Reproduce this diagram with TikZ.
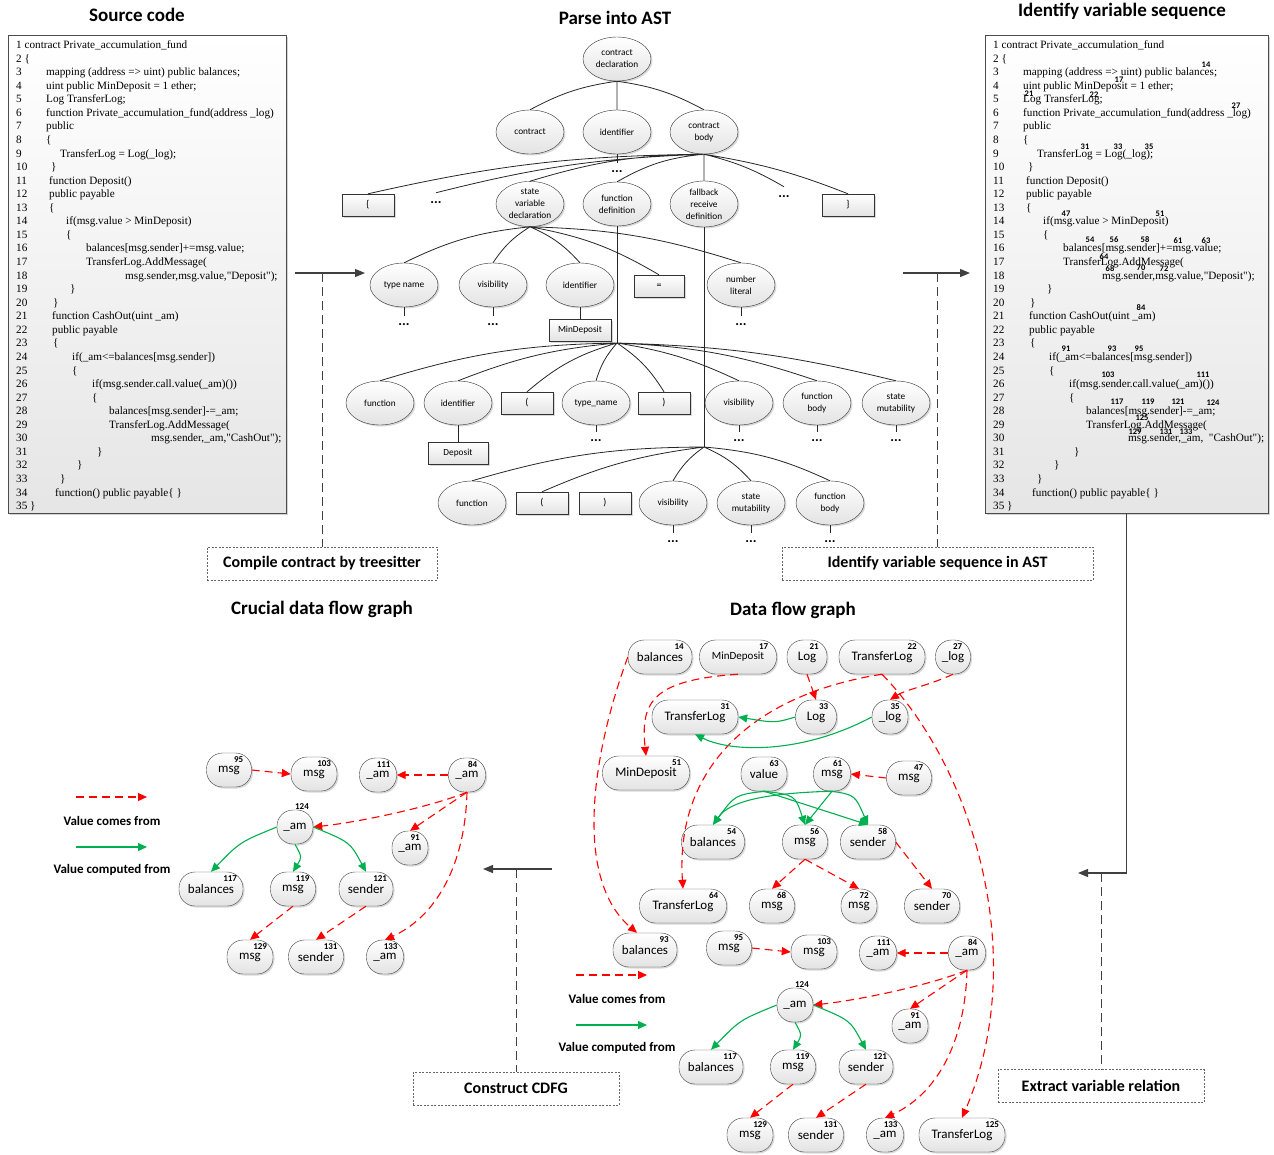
\documentclass[tikz,border=0pt]{standalone}
\usepackage{fontspec}
\setmainfont{Carlito}
\newfontfamily\codefont{Liberation Serif}
\usetikzlibrary{shapes,arrows.meta,shadows}
\definecolor{vred}{RGB}{255,0,0}
\definecolor{vgreen}{RGB}{0,176,80}
\definecolor{flowgray}{RGB}{64,64,64}
\tikzstyle{ttl}=[font=\bfseries\fontsize{19}{22}\selectfont]
\tikzstyle{codebox}=[draw=black!70,rectangle,top color=white,bottom color=gray!20,drop shadow={shadow xshift=2pt,shadow yshift=-2pt,opacity=0.35},minimum height=478pt,inner sep=0pt]
\tikzstyle{codetxt}=[anchor=north west,inner sep=0pt,align=left,font=\codefont\fontsize{11.2}{13.56}\selectfont]
\tikzstyle{seqnum}=[inner sep=0pt,font=\bfseries\fontsize{8.5}{9}\selectfont]
\tikzstyle{ast}=[draw=black!80,ellipse,minimum width=68pt,minimum height=44pt,inner sep=1pt,align=center,top color=white,bottom color=gray!22,drop shadow={shadow xshift=1.5pt,shadow yshift=-1.5pt,opacity=0.3},font=\fontsize{9.3}{12}\selectfont]
\tikzstyle{tok}=[draw=black!80,rectangle,minimum width=52pt,minimum height=22pt,top color=white,bottom color=gray!22,drop shadow={shadow xshift=1.5pt,shadow yshift=-1.5pt,opacity=0.3},font=\fontsize{10}{12}\selectfont]
\tikzstyle{more}=[inner sep=1pt,font=\bfseries\fontsize{14}{14}\selectfont]
\tikzstyle{tree}=[draw=black!85,line width=0.8pt]
\tikzstyle{procbox}=[draw=black!60,dash pattern=on 2pt off 1.5pt,fill=white,minimum height=33pt,font=\bfseries\fontsize{16}{18}\selectfont]
\tikzstyle{flow}=[draw=flowgray,line width=1.2pt,-{Triangle[length=10pt,width=8pt]}]
\tikzstyle{link}=[draw=flowgray,line width=1pt,dash pattern=on 9pt off 5pt]
\tikzstyle{var}=[draw=black!75,rectangle,rounded corners=16pt,minimum height=34pt,inner sep=1pt,top color=white,bottom color=gray!22,drop shadow={shadow xshift=1.5pt,shadow yshift=-1.5pt,opacity=0.3},font=\fontsize{13}{14}\selectfont]
\tikzstyle{num}=[anchor=center,inner sep=0pt,font=\bfseries\fontsize{9}{9}\selectfont]
\tikzset{vn/.style={var,label={[num,xshift=-13pt,yshift=-7pt]north east:#1}}}
\tikzstyle{vf}=[draw=vred,line width=1.1pt,dash pattern=on 8pt off 5pt,-{Triangle[length=9pt,width=8pt]}]
\tikzstyle{cf}=[draw=vgreen,line width=1.1pt,-{Triangle[length=9pt,width=8pt]}]
\tikzstyle{lgd}=[font=\bfseries\fontsize{13}{14}\selectfont]

\newcommand\srcline[3]{\makebox[#2pt][l]{#1}#3}
\newcommand\srctext[1]{%
1 contract Private\_accumulation\_fund\\
2 \{\\
\srcline{3}{30}{mapping (address => uint) public balances;}\\
\srcline{4}{30}{uint public MinDeposit = 1 ether;}\\
\srcline{5}{30}{Log TransferLog;}\\
\srcline{6}{30}{function Private\_accumulation\_fund(address \_log)}\\
\srcline{7}{30}{public}\\
\srcline{8}{30}{\{}\\
\srcline{9}{44}{TransferLog = Log(\_log);}\\
\srcline{10}{35}{\}}\\
\srcline{11}{33}{function Deposit()}\\
\srcline{12}{33}{public payable}\\
\srcline{13}{33}{\{}\\
\srcline{14}{50}{if(msg.value > MinDeposit)}\\
\srcline{15}{50}{\{}\\
\srcline{16}{70}{balances[msg.sender]+=msg.value;}\\
\srcline{17}{70}{TransferLog.AddMessage(}\\
\srcline{18}{109}{msg.sender,msg.value,"Deposit");}\\
\srcline{19}{54}{\}}\\
\srcline{20}{37}{\}}\\
\srcline{21}{36}{function CashOut(uint \_am)}\\
\srcline{22}{36}{public payable}\\
\srcline{23}{37}{\{}\\
\srcline{24}{56}{if(\_am<=balances[msg.sender])}\\
\srcline{25}{56}{\{}\\
\srcline{26}{76}{if(msg.sender.call.value(\_am)())}\\
\srcline{27}{76}{\{}\\
\srcline{28}{93}{balances[msg.sender]-=\_am;}\\
\srcline{29}{93}{TransferLog.AddMessage(}\\
\srcline{30}{135}{msg.sender,\_am,#1"CashOut");}\\
\srcline{31}{81}{\}}\\
\srcline{32}{61}{\}}\\
\srcline{33}{44}{\}}\\
\srcline{34}{39}{function() public payable\{ \}}\\
35 \}}

\begin{document}
\begin{tikzpicture}[x=1pt,y=1pt]
\useasboundingbox (0,0) rectangle (1274,-1154);

% titles
\node[ttl] (t-src) at (137,-15) {Source code};
\node[ttl] (t-ast) at (615,-18) {Parse into AST};
\node[ttl] (t-seq) at (1122,-11) {Identify variable sequence};
\node[ttl] (t-cdfg) at (322,-609) {Crucial data flow graph};
\node[ttl] (t-dfg) at (793,-610) {Data flow graph};

% source code
\node[codebox,minimum width=278pt] (src) at (147,-274) {};
\node[codetxt] (src-txt) at (16,-40.5) {\srctext{}};

% variable sequence
\node[codebox,minimum width=283pt] (seq) at (1126.5,-274) {};
\node[codetxt] (seq-txt) at (993,-40.5) {\srctext{\ \ }};
\node[seqnum] (q14) at (1206,-65) {14}; \node[seqnum] (q17) at (1119,-80) {17};
\node[seqnum] (q21) at (1029,-94) {21}; \node[seqnum] (q22) at (1094,-95) {22};
\node[seqnum] (q27) at (1236,-106) {27};
\node[seqnum] (q31) at (1085,-147) {31}; \node[seqnum] (q33) at (1118,-147) {33}; \node[seqnum] (q35) at (1149,-147) {35};
\node[seqnum] (q47) at (1066,-214) {47}; \node[seqnum] (q51) at (1160,-214) {51};
\node[seqnum] (q54) at (1090,-240) {54}; \node[seqnum] (q56) at (1114,-240) {56}; \node[seqnum] (q58) at (1145,-240) {58};
\node[seqnum] (q61) at (1178,-241) {61}; \node[seqnum] (q63) at (1206,-241) {63};
\node[seqnum] (q64) at (1104,-257) {64};
\node[seqnum] (q68) at (1110,-269) {68}; \node[seqnum] (q70) at (1141,-268) {70}; \node[seqnum] (q72) at (1164,-269) {72};
\node[seqnum] (q84) at (1141,-308) {84};
\node[seqnum] (q91) at (1066,-349) {91}; \node[seqnum] (q93) at (1112,-349) {93}; \node[seqnum] (q95) at (1139,-349) {95};
\node[seqnum] (q103) at (1108,-375) {103}; \node[seqnum] (q111) at (1203,-375) {111};
\node[seqnum] (q117) at (1117,-402) {117}; \node[seqnum] (q119) at (1148,-402) {119}; \node[seqnum] (q121) at (1178,-402) {121}; \node[seqnum] (q124) at (1213,-403) {124};
\node[seqnum] (q125) at (1142,-418) {125};
\node[seqnum] (q129) at (1135,-432) {129}; \node[seqnum] (q131) at (1166,-432) {131}; \node[seqnum] (q133) at (1186,-432) {133};

% AST
\node[ast] (cd) at (617,-59) {contract\\declaration};
\node[ast] (ct) at (530,-132) {contract};
\node[ast] (ci) at (617,-132) {identifier};
\node[ast] (cb) at (704,-132) {contract\\body};
\node[more] (ci-m) at (617,-172) {...};
\node[tok] (lbr) at (368,-205) {\{};
\node[more] (cb-m1) at (436,-203) {...};
\node[ast] (svd) at (530,-204) {state\\variable\\declaration};
\node[ast] (fd) at (617,-204) {function\\definition};
\node[ast] (frd) at (704,-204) {fallback\\receive\\definition};
\node[more] (cb-m2) at (784,-197) {...};
\node[tok] (rbr) at (848,-205) {\}};

\node[ast] (tn) at (404,-285) {type name};
\node[ast] (vi) at (493,-285) {visibility};
\node[ast] (si) at (580,-285) {identifier};
\node[tok,minimum width=50pt] (eq) at (659,-286) {=};
\node[ast] (nl) at (741,-285) {number\\literal};
\node[more] (tn-m) at (404,-325) {...};
\node[more] (vi-m) at (493,-325) {...};
\node[tok,minimum width=62pt,font=\fontsize{9.3}{12}\selectfont] (md) at (580,-330) {MinDeposit};
\node[more] (nl-m) at (741,-325) {...};

\coordinate (fj) at (617,-343);
\node[ast] (fn) at (380,-403) {function};
\node[ast] (fi) at (458,-403) {identifier};
\node[tok] (lp) at (527,-403) {(};
\node[ast] (ty) at (596,-403) {type\_name};
\node[tok] (rp) at (664,-403) {)};
\node[ast] (fv) at (739,-403) {visibility};
\node[ast] (fb) at (817,-403) {function\\body};
\node[ast] (fs) at (896,-403) {state\\mutability};
\node[tok,minimum width=60pt,font=\fontsize{9.3}{12}\selectfont] (dep) at (458,-453) {Deposit};
\node[more] (ty-m) at (596,-441) {...};
\node[more] (fv-m) at (739,-441) {...};
\node[more] (fb-m) at (817,-441) {...};
\node[more] (fs-m) at (896,-441) {...};

\coordinate (bj) at (704,-447);
\node[ast] (gn) at (472,-503) {function};
\node[tok] (glp) at (542,-503) {(};
\node[tok] (grp) at (605,-503) {)};
\node[ast] (gv) at (673,-503) {visibility};
\node[ast] (gs) at (751,-503) {state\\mutability};
\node[ast] (gb) at (830,-503) {function\\body};
\node[more] (gv-m) at (673,-542) {...};
\node[more] (gs-m) at (751,-542) {...};
\node[more] (gb-m) at (830,-542) {...};

\draw[tree] (cd.south) to[bend right=10] (ct.north) (cd.south) -- (ci.north) (cd.south) to[bend left=10] (cb.north);
\draw[tree] (ci.south) -- ([yshift=7pt]ci-m.north);
\draw[tree] (cb.south) to[bend right=6] (lbr.north) (cb.south) to[bend right=6] ([yshift=8pt]cb-m1.north) (cb.south) to[bend right=8] (svd.north) (cb.south) to[bend right=12] (fd.north);
\draw[tree] (cb.south) -- (frd.north) (cb.south) to[bend left=8] ([yshift=8pt]cb-m2.north) (cb.south) to[bend left=6] (rbr.north);
\draw[tree] (svd.south) to[bend right=10] (tn.north) (svd.south) to[bend right=12] (vi.north) (svd.south) to[bend left=12] (si.north) (svd.south) to[bend left=10] (eq.north) (svd.south) to[bend left=8] (nl.north);
\draw[tree] (tn.south) -- ([yshift=7pt]tn-m.north) (vi.south) -- ([yshift=7pt]vi-m.north) (si.south) -- (md.north) (nl.south) -- ([yshift=7pt]nl-m.north);
\draw[tree] (fd.south) -- (fj);
\draw[tree] (fj) to[bend right=8] (fn.north) (fj) to[bend right=8] (fi.north) (fj) to[bend right=12] (lp.north) (fj) to[bend right=12] (ty.north) (fj) to[bend left=12] (rp.north);
\draw[tree] (fj) to[bend left=8] (fv.north) (fj) to[bend left=8] (fb.north) (fj) to[bend left=6] (fs.north);
\draw[tree] (fi.south) -- (dep.north) (ty.south) -- ([yshift=7pt]ty-m.north) (fv.south) -- ([yshift=7pt]fv-m.north) (fb.south) -- ([yshift=7pt]fb-m.north) (fs.south) -- ([yshift=7pt]fs-m.north);
\draw[tree] (frd.south) -- (bj);
\draw[tree] (bj) to[bend right=8] (gn.north) (bj) to[bend right=8] (glp.north) (bj) to[bend right=12] (gv.north) (bj) to[bend left=12] (gs.north) (bj) to[bend left=10] (gb.north);
\draw[tree] (gv.south) -- ([yshift=7pt]gv-m.north) (gs.south) -- ([yshift=7pt]gs-m.north) (gb.south) -- ([yshift=7pt]gb-m.north);

% process steps
\node[procbox,minimum width=230pt] (p-ts) at (322,-563.5) {Compile contract by treesitter};
\node[procbox,minimum width=311pt] (p-ast) at (937.5,-563.5) {Identify variable sequence in AST};
\node[procbox,minimum width=206pt] (p-rel) at (1101,-1086) {Extract variable relation};
\node[procbox,minimum width=206pt] (p-cdfg) at (516,-1088.5) {Construct CDFG};

\coordinate (f1a) at (295,-273); \coordinate (f1b) at (365,-273); \coordinate (f1c) at (322,-273);
\coordinate (f2a) at (903,-273); \coordinate (f2b) at (970,-273); \coordinate (f2c) at (937.5,-273);
\coordinate (f3b) at (1078,-873); \coordinate (f3c) at (1101,-873);
\coordinate (f4a) at (552,-869); \coordinate (f4b) at (483,-869); \coordinate (f4c) at (516,-869);
\draw[flow] (f1a) -- (f1b);
\draw[link] (f1c) -- (p-ts.north);
\draw[flow] (f2a) -- (f2b);
\draw[link] (f2c) -- (p-ast.north);
\draw[flow] (seq.south) |- (f3b);
\draw[link] (f3c) -- (p-rel.north);
\draw[flow] (f4a) -- (f4b);
\draw[link] (f4c) -- (p-cdfg.north);

% data flow graph
\node[vn=14,minimum width=64pt] (b14) at (660,-657) {balances};
\node[vn=17,minimum width=77pt,font=\fontsize{11}{12}\selectfont] (m17) at (738,-657) {MinDeposit};
\node[vn=21,minimum width=40pt] (l21) at (807,-657) {Log};
\node[vn=22,minimum width=86pt] (t22) at (882,-657) {TransferLog};
\node[vn=27,minimum width=35pt] (g27) at (953,-657) {\_log};
\node[vn=31,minimum width=86pt] (t31) at (695,-717) {TransferLog};
\node[vn=33,minimum width=41pt] (l33) at (816,-717) {Log};
\node[vn=35,minimum width=36pt] (g35) at (890,-717) {\_log};
\node[vn=51,minimum width=87pt] (m51) at (646,-773) {MinDeposit};
\node[vn=63,minimum width=46pt] (v63) at (764,-774) {value};
\node[vn=61,minimum width=37pt] (m61) at (832,-774) {msg};
\node[vn=47,minimum width=45pt] (m47) at (909,-778) {msg};
\node[vn=54,minimum width=63pt] (b54) at (713,-842) {balances};
\node[vn=56,minimum width=45pt] (m56) at (805,-842) {msg};
\node[vn=58,minimum width=55pt] (s58) at (868,-842) {sender};
\node[vn=64,minimum width=87pt] (t64) at (683,-906) {TransferLog};
\node[vn=68,minimum width=45pt] (m68) at (772,-906) {msg};
\node[vn=72,minimum width=36pt] (m72) at (859,-906) {msg};
\node[vn=70,minimum width=55pt] (s70) at (932,-906) {sender};
\node[vn=93,minimum width=64pt] (b93) at (645,-950) {balances};
\node[vn=95,minimum width=45pt] (m95) at (729,-948) {msg};
\node[vn=103,minimum width=46pt] (m103) at (814,-952) {msg};
\node[vn=111,minimum width=37pt] (a111) at (878,-953) {\_am};
\node[vn=84,minimum width=37pt] (a84) at (967,-953) {\_am};
\node[var,minimum width=36pt,label={[num,anchor=south,xshift=7pt]north:124}] (a124) at (795,-1005) {\_am};
\node[vn=91,minimum width=36pt] (a91) at (910,-1026) {\_am};
\node[vn=117,minimum width=64pt] (b117) at (711,-1067) {balances};
\node[vn=119,minimum width=45pt] (m119) at (793,-1067) {msg};
\node[vn=121,minimum width=54pt] (s121) at (866,-1067) {sender};
\node[vn=129,minimum width=46pt] (m129) at (750,-1135) {msg};
\node[vn=131,minimum width=55pt] (s131) at (816,-1135) {sender};
\node[vn=133,minimum width=37pt] (a133) at (885,-1135) {\_am};
\node[vn=125,minimum width=86pt] (t125) at (962,-1135) {TransferLog};

\draw[vf] (b14.west) .. controls (590,-760) and (575,-880) .. ([xshift=-8pt]b93.north);
\draw[vf] (m17.south) .. controls (655,-680) and (640,-700) .. (m51.north);
\draw[vf] (l21.south) -- (l33.north);
\draw[vf] (t22.south) .. controls (750,-695) and (675,-770) .. (t64.north);
\draw[vf] (t22.south) .. controls (975,-770) and (1030,-960) .. (t125.north);
\draw[vf] (g27.south) .. controls (930,-685) and (905,-690) .. (g35.north);
\draw[vf] (m47.west) -- (m61.east);
\draw[vf] (m56.south) -- (m68.north);
\draw[vf] (m56.south) -- (m72.north);
\draw[vf] (s58.east) -- (s70.north);
\draw[vf] (m95.east) -- (m103.west);
\draw[vf] (a84.west) -- (a111.east);
\draw[vf] (a84.south) .. controls (930,-985) and (860,-1000) .. (a124.east);
\draw[vf] (a84.south) .. controls (945,-985) .. (a91.north);
\draw[vf] (a84.south) .. controls (965,-1045) and (935,-1095) .. (a133.north);
\draw[vf] (m119.south) -- (m129.north);
\draw[vf] (s121.south) -- (s131.north);

\draw[cf] (l33.west) .. controls (775,-723) .. (t31.east);
\draw[cf] (g35.west) .. controls (800,-755) and (730,-752) .. (t31.south);
\draw[cf] (v63.south) .. controls (735,-795) .. (b54.north);
\draw[cf] (v63.south) .. controls (795,-795) .. (m56.north);
\draw[cf] (v63.south) -- (s58.north);
\draw[cf] (m61.south) .. controls (770,-793) and (730,-800) .. (b54.north);
\draw[cf] (m61.south) -- (m56.north);
\draw[cf] (m61.south) .. controls (855,-795) .. (s58.north);
\draw[cf] (a124.west) .. controls (740,-1020) .. (b117.north);
\draw[cf] (a124.south) .. controls (802,-1035) .. (m119.north);
\draw[cf] (a124.east) .. controls (850,-1020) .. (s121.north);

\coordinate (lg1a) at (576,-975); \coordinate (lg1b) at (647,-975);
\coordinate (lg2a) at (576,-1025); \coordinate (lg2b) at (647,-1025);
\draw[vf] (lg1a) -- (lg1b);
\draw[cf] (lg2a) -- (lg2b);
\node[lgd] (lg1) at (617,-999) {Value comes from};
\node[lgd] (lg2) at (617,-1048) {Value computed from};

% crucial data flow graph
\node[vn=95,minimum width=45pt] (c95) at (229,-770) {msg};
\node[vn=103,minimum width=46pt] (c103) at (314,-774) {msg};
\node[vn=111,minimum width=37pt] (c111) at (378,-775) {\_am};
\node[vn=84,minimum width=37pt] (c84) at (467,-775) {\_am};
\node[var,minimum width=36pt,label={[num,anchor=south,xshift=7pt]north:124}] (c124) at (295,-827) {\_am};
\node[vn=91,minimum width=36pt] (c91) at (410,-848) {\_am};
\node[vn=117,minimum width=64pt] (c117) at (211,-889) {balances};
\node[vn=119,minimum width=45pt] (c119) at (293,-889) {msg};
\node[vn=121,minimum width=54pt] (c121) at (366,-889) {sender};
\node[vn=129,minimum width=46pt] (c129) at (250,-957) {msg};
\node[vn=131,minimum width=55pt] (c131) at (316,-957) {sender};
\node[vn=133,minimum width=37pt] (c133) at (385,-957) {\_am};

\draw[vf] (c95.east) -- (c103.west);
\draw[vf] (c84.west) -- (c111.east);
\draw[vf] (c84.south) .. controls (430,-807) and (360,-822) .. (c124.east);
\draw[vf] (c84.south) .. controls (445,-807) .. (c91.north);
\draw[vf] (c84.south) .. controls (465,-867) and (435,-917) .. (c133.north);
\draw[vf] (c119.south) -- (c129.north);
\draw[vf] (c121.south) -- (c131.north);
\draw[cf] (c124.west) .. controls (240,-842) .. (c117.north);
\draw[cf] (c124.south) .. controls (302,-857) .. (c119.north);
\draw[cf] (c124.east) .. controls (350,-842) .. (c121.north);

\coordinate (lc1a) at (76,-797); \coordinate (lc1b) at (147,-797);
\coordinate (lc2a) at (76,-847); \coordinate (lc2b) at (147,-847);
\draw[vf] (lc1a) -- (lc1b);
\draw[cf] (lc2a) -- (lc2b);
\node[lgd] (lc1) at (112,-821) {Value comes from};
\node[lgd] (lc2) at (112,-870) {Value computed from};

\end{tikzpicture}
\end{document}
